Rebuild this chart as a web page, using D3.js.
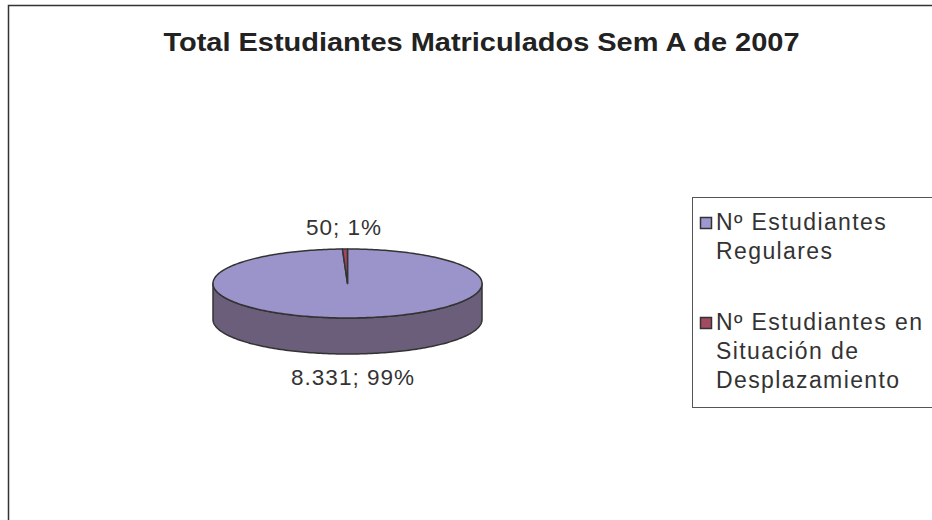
<!DOCTYPE html>
<html><head><meta charset="utf-8">
<script src="https://cdn.jsdelivr.net/npm/d3@7"></script>
<style>body{margin:0;background:#fff}svg{display:block}</style>
</head><body>
<script>
const title = "Total Estudiantes Matriculados Sem A de 2007";
const categories = ["Nº Estudiantes Regulares", "Nº Estudiantes en Situación de Desplazamiento"];
const legendLines = [["Nº Estudiantes", "Regulares"], ["Nº Estudiantes en", "Situación de", "Desplazamiento"]];
const values = [8331, 50];
const topColors = ["#9b94ca", "#a2485e"];
const sideColors = ["#6b5e7b", "#6e2d3f"];
const legendColors = ["#9d99d0", "#a24a60"];

const W = 932, H = 520;
const svg = d3.select("body").append("svg").attr("width", W).attr("height", H);
const font = "'Liberation Sans', Arial, sans-serif";

// frame
svg.append("path").attr("d", `M8.5,${H} L8.5,5.5 L${W},5.5`).attr("fill", "none").attr("stroke", "#333").attr("stroke-width", 1.5);

svg.append("text").attr("x", 481.5).attr("y", 51).attr("text-anchor", "middle")
  .attr("font-family", font).attr("font-weight", "bold").attr("font-size", 25.5)
  .attr("fill", "#222").attr("textLength", 636).attr("lengthAdjust", "spacingAndGlyphs").text(title);

const cx = 347.5, cy = 283.5, rx = 134.5, ry = 34.5, depth = 36;
const pie = d3.pie().sort(null).startAngle(0).endAngle(2 * Math.PI);
const arcs = pie(values);
const total = d3.sum(values);
const loc = d3.formatLocale({decimal: ",", thousands: ".", grouping: [3], currency: ["", ""]});
const fmtN = loc.format(",d");
const pctScale = d3.scaleLinear().domain([0, total]).range([0, 100]);

const px = (a, dy = 0) => [cx + rx * Math.sin(a), cy - ry * Math.cos(a) + dy];
function arcPts(a0, a1, dy) {
  const n = Math.max(2, Math.ceil(Math.abs(a1 - a0) / 0.02));
  return d3.range(n + 1).map(i => px(a0 + (a1 - a0) * i / n, dy));
}
const g = svg.append("g");
// side walls (front half)
arcs.forEach((d, i) => {
  const a0 = Math.max(d.startAngle, Math.PI / 2), a1 = Math.min(d.endAngle, 3 * Math.PI / 2);
  if (a1 <= a0) return;
  const top = arcPts(a0, a1, 0), bot = arcPts(a1, a0, depth);
  g.append("path").attr("d", d3.line()(top.concat(bot)) + "Z")
    .attr("fill", sideColors[i]).attr("stroke", "#333").attr("stroke-width", 1.5).attr("stroke-linejoin", "round");
});
// top faces
arcs.forEach((d, i) => {
  const pts = [[cx, cy]].concat(arcPts(d.startAngle, d.endAngle, 0));
  g.append("path").attr("d", d3.line()(pts) + "Z")
    .attr("fill", topColors[i]).attr("stroke", "#333").attr("stroke-width", 1.5).attr("stroke-linejoin", "round");
});

// labels
arcs.forEach((d, i) => {
  const mid = (d.startAngle + d.endAngle) / 2;
  const front = Math.cos(mid) < 0;
  const [x, y] = px(mid, front ? depth : 0);
  const ty = front ? y + 31 : y - 14;
  svg.append("text").attr("x", x + (front ? 3 : -1)).attr("y", ty).attr("text-anchor", "middle")
    .attr("font-family", font).attr("font-size", 22.5).attr("letter-spacing", 1).attr("fill", "#333")
    .text(fmtN(d.data) + "; " + Math.round(pctScale(d.data)) + "%");
});

// legend
svg.append("rect").attr("x", 692.5).attr("y", 197.5).attr("width", 260).attr("height", 210)
  .attr("fill", "#fff").attr("stroke", "#555").attr("stroke-width", 1);
const ly = [230, 330];
categories.forEach((c, i) => {
  svg.append("rect").attr("x", 700.5).attr("y", ly[i] - 12.5).attr("width", 11).attr("height", 11)
    .attr("fill", legendColors[i]).attr("stroke", "#333").attr("stroke-width", 1.5);
  const t = svg.append("text").attr("font-family", font).attr("font-size", 23).attr("letter-spacing", 1.4).attr("fill", "#333");
  legendLines[i].forEach((l, j) => t.append("tspan").attr("x", 716).attr("y", ly[i] + j * 29).text(l));
});
</script>
</body></html>
